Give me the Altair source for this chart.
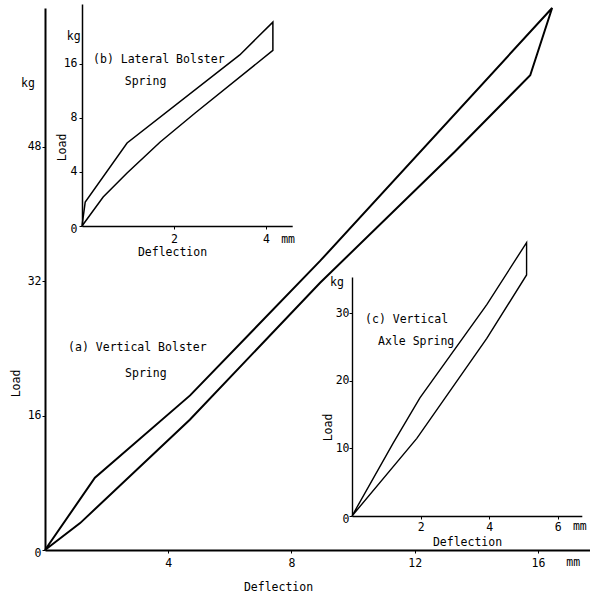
import altair as alt
import pandas as pd

# ---------------- data ----------------
# (a) Vertical Bolster Spring : loading (upper) then unloading (lower)
a_up_x = [0, 1.62, 4.71, 8.93, 16.46]
a_up_y = [0, 8.6, 18.4, 34.4, 64.5]
a_lo_x = [15.75, 13.3, 8.93, 4.7, 1.14, 0]
a_lo_y = [56.5, 47.4, 31.8, 15.5, 3.2, 0]

# (b) Lateral Bolster Spring
b_up_x = [0, 0.07, 0.98, 3.43, 4.15]
b_up_y = [0, 1.78, 6.15, 12.67, 15.1]
b_lo_x = [4.15, 2.46, 1.70, 0.98, 0.46, 0]
b_lo_y = [13.0, 8.37, 6.22, 3.93, 2.15, 0]

# (c) Vertical Axle Spring
c_up_x = [0, 1.2, 1.98, 3.93, 5.09]
c_up_y = [0, 10.8, 17.5, 31.3, 40.5]
c_lo_x = [5.09, 3.93, 1.89, 0]
c_lo_y = [35.7, 26.3, 11.5, 0]

a_xticks = [4, 8, 12, 16]
a_yticks = [0, 16, 32, 48]
b_xticks = [2, 4]
b_yticks = [0, 4, 8, 12]
c_xticks = [2, 4, 6]
c_yticks = [0, 10, 20, 30]

a_text = ["(a) Vertical Bolster", "Spring", "kg", "mm"]
a_tx = [0.75, 2.6, -0.78, 16.92]
a_ty = [24.0, 21.0, 55.4, -1.55]
b_text = ["(b) Lateral Bolster", "Spring", "kg", "mm"]
b_tx = [0.24, 0.93, -0.33, 4.33]
b_ty = [12.3, 10.67, 14.0, -1.04]
c_text = ["(c) Vertical", "Axle Spring", "kg", "mm"]
c_tx = [0.38, 0.76, -0.64, 6.44]
c_ty = [29.0, 25.8, 34.5, -1.6]

# ---------------- layout ----------------
W, H = 545, 546
FONT = "DejaVu Sans Mono"
FS = 11.5

zero_off = {"condition": {"test": "datum.value === 0", "value": 3}, "value": 0}


def panel(ux, uy, lx, ly, xdom, xrng, ydom, yrng, xticks, yticks,
          xt, yt, texts, tx, ty, sw, dw, ylabexpr=None, ylabpad=2, xlabpad=10):
    xs = list(ux) + list(lx)
    ys = list(uy) + list(ly)
    df = pd.DataFrame({"x": xs, "y": ys, "i": list(range(len(xs)))})
    tdf = pd.DataFrame({"x": tx, "y": ty, "t": texts})
    xscale = alt.Scale(domain=xdom, range=xrng, nice=False, zero=False)
    yscale = alt.Scale(domain=ydom, range=yrng, nice=False, zero=False)
    xaxis = alt.Axis(values=xticks, title="Deflection", orient="bottom",
                     offset=yrng[0] - H, titleX=xt[0], titleY=xt[1],
                     titleAlign="center", titleBaseline="middle",
                     domainWidth=dw, tickSize=3, labelPadding=xlabpad,
                     labelBaseline="middle", grid=False)
    yargs = dict(values=yticks, title="Load", orient="left",
                 offset=-xrng[0], titleX=yt[0], titleY=yt[1],
                 titleAlign="center", titleBaseline="middle",
                 domainWidth=dw, tickSize=3, labelPadding=ylabpad,
                 labelOffset=zero_off, grid=False)
    if ylabexpr:
        yargs["labelExpr"] = ylabexpr
    yaxis = alt.Axis(**yargs)
    line = alt.Chart(df).mark_line(color="black", strokeWidth=sw).encode(
        x=alt.X("x:Q", scale=xscale, axis=xaxis),
        y=alt.Y("y:Q", scale=yscale, axis=yaxis),
        order=alt.Order("i:Q"),
    )
    txt = alt.Chart(tdf).mark_text(align="left", baseline="middle", font=FONT,
                                   fontSize=FS, color="black").encode(
        x=alt.X("x:Q", scale=xscale, axis=xaxis),
        y=alt.Y("y:Q", scale=yscale, axis=yaxis),
        text="t:N",
    )
    return alt.layer(line, txt)


pa = panel(a_up_x, a_up_y, a_lo_x, a_lo_y,
           [0, 17.69], [0, 545], [0, 64.5], [546, 4],
           a_xticks, a_yticks, (233, 37), (-29, 379),
           a_text, a_tx, a_ty, 2.0, 2.0, ylabpad=1, xlabpad=10)
pb = panel(b_up_x, b_up_y, b_lo_x, b_lo_y,
           [0, 4.57], [37, 247.2], [0, 16.44], [222, 0],
           b_xticks, b_yticks, (127, 26), (-20, 143),
           b_text, b_tx, b_ty, 1.5, 1.5,
           ylabexpr="datum.value == 12 ? '16' : datum.label", ylabpad=2, xlabpad=10)
pc = panel(c_up_x, c_up_y, c_lo_x, c_lo_y,
           [0, 6.7], [307, 536.8], [0, 35.4], [512, 273],
           c_xticks, c_yticks, (422, 26), (-24, 423),
           c_text, c_tx, c_ty, 1.4, 1.4, ylabpad=0, xlabpad=8)

chart = alt.layer(pa, pb, pc).resolve_scale(
    x="independent", y="independent"
).properties(
    width=W, height=H,
    autosize=alt.AutoSizeParams(type="none"),
    padding={"left": 45, "top": 4, "right": 0, "bottom": 46},
    background="white",
).configure_view(stroke=None).configure_axis(
    labelFont=FONT, labelFontSize=FS, titleFont=FONT, titleFontSize=FS,
    titleFontWeight="normal", labelColor="black", titleColor="black",
    domainColor="black", tickColor="black",
)

chart.save("out.html", embed_options={"renderer": "svg", "actions": False})
